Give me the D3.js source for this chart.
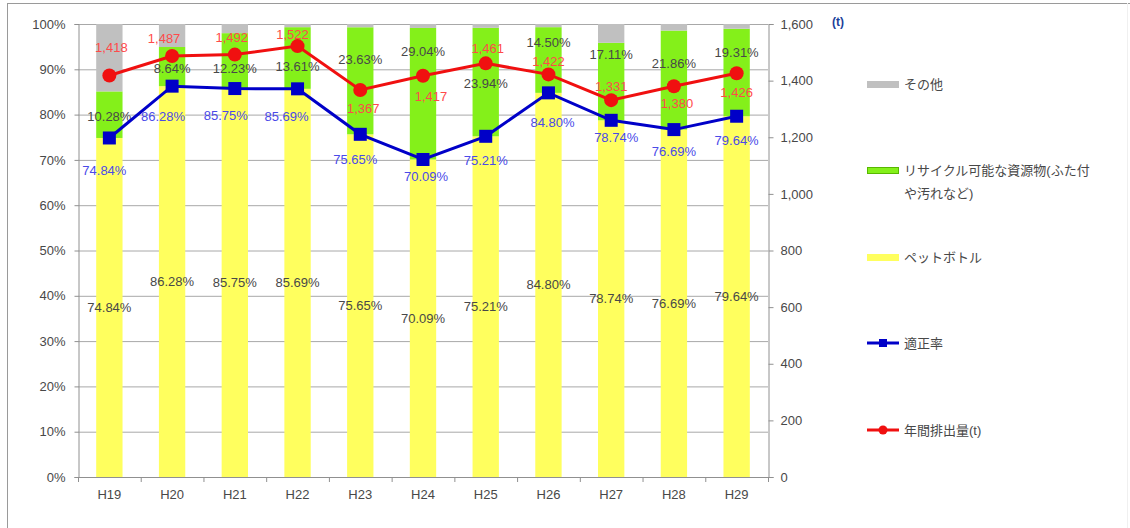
<!DOCTYPE html>
<html><head><meta charset="utf-8">
<script src="https://cdn.jsdelivr.net/npm/d3@7"></script>
<style>
html,body{margin:0;padding:0;background:#fff;}
svg{display:block;font-family:"Liberation Sans","Noto Sans CJK JP",sans-serif;}
</style></head><body>
<svg id="c" width="1130" height="528"></svg>
<script>
// ---- data ----
const categories = ["H19","H20","H21","H22","H23","H24","H25","H26","H27","H28","H29"];
const petBottle = [74.84,86.28,85.75,85.69,75.65,70.09,75.21,84.80,78.74,76.69,79.64];
const recyclable = [10.28,8.64,12.23,13.61,23.63,29.04,23.94,14.50,17.11,21.86,19.31];
const other = [14.88,5.08,2.02,0.70,0.72,0.87,0.85,0.70,4.15,1.45,1.05];
const properRate = [74.84,86.28,85.75,85.69,75.65,70.09,75.21,84.80,78.74,76.69,79.64];
const annualTons = [1418,1487,1492,1522,1367,1417,1461,1422,1331,1380,1426];
const leftTicks = [0,10,20,30,40,50,60,70,80,90,100];
const rightTicks = [0,200,400,600,800,1000,1200,1400,1600];
const legendLabels = ["その他","リサイクル可能な資源物(ふた付|や汚れなど)","ペットボトル","適正率","年間排出量(t)"];

// ---- label nudges (layout only) ----
const greenDy = [2,2,8,8,-21,-42,1,-18,-27,-17,-20];
const redDx = [2,-8,-3,-5,3,8,2,0,0,3,0];
const redDy = [-28,-18,-17,-12,18,21,-15,-13,-14,17,19];
const blueDx = [-5,-9,-9,-11,-5,3,0,4,5,0,0];
const blueDy = [32,30,27,28,25,17,24,30,17,22,24];

const svg = d3.select("#c");
const L = 78, R = 768, T = 24, B = 477;
const C = {yellow:"#ffff5e", green:"#84f01a", gray:"#c0c0c0", blue:"#0000c8", red:"#f01010",
           txt:"#484848", redTxt:"#ff4a4a", blueTxt:"#4a4ae8", grid:"#a8a8a8", axis:"#909090"};

// frame (top + left edges, faint right)
svg.append("line").attr("x1",7).attr("x2",1130).attr("y1",3.5).attr("y2",3.5).attr("stroke","#9a9a9a");
svg.append("line").attr("x1",7.5).attr("x2",7.5).attr("y1",3).attr("y2",528).attr("stroke","#9a9a9a");
svg.append("line").attr("x1",1127.5).attr("x2",1127.5).attr("y1",3).attr("y2",528).attr("stroke","#f0f0f0");

const x = d3.scaleBand().domain(categories).range([L,R]).paddingInner(0.58).paddingOuter(0.29);
const yL = d3.scaleLinear().domain([0,100]).range([B,T]);
const yR = d3.scaleLinear().domain([0,1600]).range([B,T]);
const cx = c => x(c) + x.bandwidth()/2;

// gridlines
svg.append("g").selectAll("line").data(leftTicks.filter(d=>d>0)).join("line")
  .attr("x1",L).attr("x2",R).attr("y1",d=>yL(d)+0.5).attr("y2",d=>yL(d)+0.5)
  .attr("stroke",C.grid).attr("stroke-width",1);

// stacked bars
const rows = categories.map((c,i)=>({c, pet:petBottle[i], rec:recyclable[i], oth:other[i]}));
const stack = d3.stack().keys(["pet","rec","oth"])(rows);
const fills = [C.yellow, C.green, C.gray];
svg.append("g").selectAll("g").data(stack).join("g").attr("fill",(d,i)=>fills[i])
  .selectAll("rect").data(d=>d).join("rect")
  .attr("x",d=>x(d.data.c)).attr("width",x.bandwidth())
  .attr("y",d=>yL(Math.min(100,d[1]))).attr("height",d=>yL(d[0])-yL(Math.min(100,d[1])));

// axes
const axL = svg.append("g").attr("transform",`translate(${L+0.5},0)`)
  .call(d3.axisLeft(yL).tickValues(leftTicks).tickFormat(d=>d+"%").tickSize(4).tickPadding(9));
const axR = svg.append("g").attr("transform",`translate(${R+0.5},0)`)
  .call(d3.axisRight(yR).tickValues(rightTicks).tickFormat(d3.format(",")).tickSize(5).tickPadding(7));
[axL,axR].forEach(a=>{
  a.select(".domain").attr("stroke",C.axis);
  a.selectAll(".tick line").attr("stroke",C.axis);
  a.selectAll("text").attr("fill",C.txt).attr("font-size",13);
});
// bottom axis
svg.append("line").attr("x1",L).attr("x2",R).attr("y1",B+0.5).attr("y2",B+0.5).attr("stroke",C.axis);
const step = x.step();
svg.append("g").selectAll("line").data(d3.range(categories.length+1)).join("line")
  .attr("x1",i=>L+i*step+0.5).attr("x2",i=>L+i*step+0.5).attr("y1",B).attr("y2",B+5).attr("stroke",C.axis);
svg.append("g").selectAll("text").data(categories).join("text")
  .attr("x",d=>cx(d)).attr("y",B+22).attr("text-anchor","middle")
  .attr("fill",C.txt).attr("font-size",13).text(d=>d);

// unit label
svg.append("text").attr("x",838).attr("y",26).attr("text-anchor","middle")
  .attr("fill","#1a3f9a").attr("font-size",12).attr("font-weight","bold").text("(t)");

// bar labels
svg.append("g").selectAll("text").data(categories).join("text")
  .attr("x",d=>cx(d)).attr("y",(d,i)=>yL(petBottle[i]/2)).attr("dy","0.35em")
  .attr("text-anchor","middle").attr("fill",C.txt).attr("font-size",13)
  .text((d,i)=>petBottle[i].toFixed(2)+"%");
svg.append("g").selectAll("text").data(categories).join("text")
  .attr("x",d=>cx(d)).attr("y",(d,i)=>yL(petBottle[i]+recyclable[i]/2)+greenDy[i]).attr("dy","0.35em")
  .attr("text-anchor","middle").attr("fill",C.txt).attr("font-size",13)
  .text((d,i)=>recyclable[i].toFixed(2)+"%");

// lines
const blueLine = d3.line().x((d,i)=>cx(categories[i])).y(d=>yL(d));
const redLine = d3.line().x((d,i)=>cx(categories[i])).y(d=>yR(d));
svg.append("path").datum(properRate).attr("d",blueLine).attr("fill","none").attr("stroke",C.blue).attr("stroke-width",3);
svg.append("g").selectAll("rect").data(properRate).join("rect")
  .attr("x",(d,i)=>cx(categories[i])-6.5).attr("y",d=>yL(d)-6.5).attr("width",13).attr("height",13).attr("fill",C.blue);
svg.append("path").datum(annualTons).attr("d",redLine).attr("fill","none").attr("stroke",C.red).attr("stroke-width",3);
svg.append("g").selectAll("circle").data(annualTons).join("circle")
  .attr("cx",(d,i)=>cx(categories[i])).attr("cy",d=>yR(d)).attr("r",7).attr("fill",C.red);

// line labels
svg.append("g").selectAll("text").data(annualTons).join("text")
  .attr("x",(d,i)=>cx(categories[i])+redDx[i]).attr("y",(d,i)=>yR(d)+redDy[i]).attr("dy","0.35em")
  .attr("text-anchor","middle").attr("fill",C.redTxt).attr("font-size",13).text(d=>d3.format(",")(d));
svg.append("g").selectAll("text").data(properRate).join("text")
  .attr("x",(d,i)=>cx(categories[i])+blueDx[i]).attr("y",(d,i)=>yL(d)+blueDy[i]).attr("dy","0.35em")
  .attr("text-anchor","middle").attr("fill",C.blueTxt).attr("font-size",13).text(d=>d.toFixed(2)+"%");

// legend
const legY = [84,170,257,343,430];
const lg = svg.append("g");
[[C.gray,"rect"],[C.green,"rectB"],[C.yellow,"rect"],[C.blue,"sq"],[C.red,"dot"]].forEach((s,i)=>{
  const y = legY[i];
  if (s[1]==="rect") lg.append("rect").attr("x",867).attr("y",y-3).attr("width",32).attr("height",7).attr("fill",s[0]);
  else if (s[1]==="rectB") lg.append("rect").attr("x",867.5).attr("y",y-2.5).attr("width",31).attr("height",6).attr("fill",s[0]).attr("stroke","#58b800");
  else {
    lg.append("line").attr("x1",867).attr("x2",899).attr("y1",y).attr("y2",y).attr("stroke",s[0]).attr("stroke-width",3);
    if (s[1]==="sq") lg.append("rect").attr("x",879).attr("y",y-4).attr("width",8).attr("height",8).attr("fill",s[0]);
    else lg.append("circle").attr("cx",883).attr("cy",y).attr("r",4.5).attr("fill",s[0]);
  }
  const parts = legendLabels[i].split("|");
  parts.forEach((p,j)=>lg.append("text").attr("x",904).attr("y",y+j*23).attr("dy","0.35em")
    .attr("fill",C.txt).attr("font-size",13).text(p));
});
</script></body></html>
